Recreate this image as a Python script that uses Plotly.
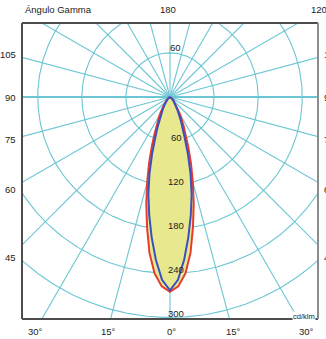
import numpy as np
import plotly.graph_objects as go

# ---- data ----
gamma_deg = [0, 2.5, 5, 7.5, 10, 12.5, 15, 17.5, 20, 22.5, 25, 30, 35, 40, 45, 50, 60, 70, 90]
intensity_red = [265, 258, 241, 214, 180, 149, 120, 95, 73, 56, 44, 28, 17, 11, 7, 5, 2, 1, 0]
intensity_blue = [263, 249, 222, 192, 163, 136, 108, 81, 58, 44, 34, 20, 13, 8, 5, 3, 1, 0.5, 0]
ring_values = [60, 120, 180, 240, 300]
ring_labels = ["60", "120", "180", "240", "300"]
spoke_step = 15
side_angles = [105, 90, 75, 60, 45]
side_labels = ["105", "90", "75", "60", "45"]
bottom_angles = [-30, -15, 0, 15, 30]
bottom_labels = ["30°", "15°", "0°", "15°", "30°"]
top_angles = [180, 120]
top_labels = ["180", "120"]
unit_label = "cd/klm"
title_label = "Ángulo Gamma"

# ---- layout geometry (screen pixels) ----
W, H = 326, 339
box_l, box_r, box_t, box_b = 22, 318, 23, 319
ml, mt = box_l, box_t
pw, ph = box_r - box_l, box_b - box_t
mr, mb = W - ml - pw, H - mt - ph
pxu = 0.7348  # pixels per cd/klm
cx_px = (box_l + box_r) / 2
cy_px = 97
xr = [-(pw / 2) / pxu, (pw / 2) / pxu]
yr = [-(box_b - cy_px) / pxu, (cy_px - box_t) / pxu]

GRID = "#6cc6d4"
FONT = "Liberation Sans, Arial, sans-serif"
TXT = "#222222"


def to_paper(x, y):
    return (x - xr[0]) / (xr[1] - xr[0]), (y - yr[0]) / (yr[1] - yr[0])


def px_to_data_x(px):
    return (px - cx_px) / pxu


def px_to_data_y(py):
    return (cy_px - py) / pxu


fig = go.Figure()

# rings
t = np.linspace(0, 2 * np.pi, 721)
rxs, rys = [], []
for r in ring_values:
    rxs += list(r * np.sin(t)) + [None]
    rys += list(r * np.cos(t)) + [None]
fig.add_trace(go.Scatter(x=rxs, y=rys, mode="lines", line=dict(color=GRID, width=1.1),
                         hoverinfo="skip", showlegend=False))

# spokes
Lr = 700
sx, sy = [], []
for a in range(0, 360, spoke_step):
    if a in (90, 270):
        continue
    ar = np.radians(a)
    sx += [0, Lr * np.sin(ar), None]
    sy += [0, -Lr * np.cos(ar), None]
fig.add_trace(go.Scatter(x=sx, y=sy, mode="lines", line=dict(color=GRID, width=1.1),
                         hoverinfo="skip", showlegend=False))
fig.add_trace(go.Scatter(x=[-Lr, Lr], y=[0, 0], mode="lines", line=dict(color=GRID, width=2),
                         hoverinfo="skip", showlegend=False))


def curve(gam, inten):
    g = np.radians(np.array(gam, dtype=float))
    I = np.array(inten, dtype=float)
    gg = np.concatenate([-g[::-1], g[1:]])
    II = np.concatenate([I[::-1], I[1:]])
    return II * np.sin(gg), -II * np.cos(gg)


rx, ry = curve(gamma_deg, intensity_red)
bx, by = curve(gamma_deg, intensity_blue)
fig.add_trace(go.Scatter(x=rx, y=ry, mode="lines", fill="toself", fillcolor="#e8e98f",
                         line=dict(color="#e63c2e", width=2), hoverinfo="skip", showlegend=False))
fig.add_trace(go.Scatter(x=bx, y=by, mode="lines",
                         line=dict(color="#3a4fc0", width=2), hoverinfo="skip", showlegend=False))

ann = []
# ring labels
for r, lab in zip(ring_values, ring_labels):
    ann.append(dict(x=0, y=-r, xref="x", yref="y", text=lab, showarrow=False,
                    xshift=6, yshift=4, font=dict(size=9.5, color=TXT, family=FONT)))
ann.append(dict(x=0, y=ring_values[0], xref="x", yref="y", text=ring_labels[0], showarrow=False,
                xshift=5, yshift=5, font=dict(size=9.5, color=TXT, family=FONT)))

# side labels (left & right) at the spoke crossing of the label column
col = px_to_data_x(10)
for a, lab in zip(side_angles, side_labels):
    ar = np.radians(a)
    yv = col * np.cos(ar) / np.sin(ar)
    xp, yp = to_paper(px_to_data_x(18), yv)
    ann.append(dict(x=xp, y=yp, xref="paper", yref="paper", text=lab, showarrow=False,
                    xanchor="right", yanchor="middle", font=dict(size=9.5, color=TXT, family=FONT)))
    xp2, _ = to_paper(px_to_data_x(322), yv)
    ann.append(dict(x=xp2, y=yp, xref="paper", yref="paper", text=lab, showarrow=False,
                    xanchor="left", yanchor="middle", font=dict(size=9.5, color=TXT, family=FONT)))

# bottom labels
rowb = px_to_data_y(331)
for a, lab in zip(bottom_angles, bottom_labels):
    xv = -rowb * np.tan(np.radians(a))
    xp, yp = to_paper(xv, rowb)
    ann.append(dict(x=xp, y=yp, xref="paper", yref="paper", text=lab, showarrow=False,
                    xanchor="center", yanchor="middle", xshift=1,
                    font=dict(size=9.5, color=TXT, family=FONT)))

# top labels
rowt = px_to_data_y(10)
for a, lab in zip(top_angles, top_labels):
    xv = rowt * np.tan(np.radians(180 - a))
    xp, yp = to_paper(xv, rowt)
    ann.append(dict(x=xp, y=yp, xref="paper", yref="paper", text=lab, showarrow=False,
                    xanchor="center", yanchor="middle", xshift=-2,
                    font=dict(size=9.5, color=TXT, family=FONT)))
xp, yp = to_paper(px_to_data_x(23), rowt)
ann.append(dict(x=xp, y=yp, xref="paper", yref="paper", text=title_label, showarrow=False,
                xanchor="left", yanchor="middle", font=dict(size=9.5, color=TXT, family=FONT)))

# unit label
xp, yp = to_paper(px_to_data_x(316), px_to_data_y(316))
ann.append(dict(x=xp, y=yp, xref="paper", yref="paper", text=unit_label, showarrow=False,
                xanchor="right", yanchor="middle", bgcolor="white", borderpad=0,
                font=dict(size=7.5, color=TXT, family=FONT)))

shapes = [
    dict(type="line", xref="paper", yref="paper", x0=0, x1=0, y0=0, y1=1, line=dict(color="#4d4d4d", width=2)),
    dict(type="line", xref="paper", yref="paper", x0=0, x1=1, y0=1, y1=1, line=dict(color="#4d4d4d", width=2)),
    dict(type="line", xref="paper", yref="paper", x0=0, x1=1, y0=0, y1=0, line=dict(color="#4d4d4d", width=2)),
    dict(type="line", xref="paper", yref="paper", x0=1, x1=1, y0=0, y1=1, line=dict(color="#8c8c8c", width=2)),
]

fig.update_layout(
    width=W, height=H,
    margin=dict(l=ml, r=mr, t=mt, b=mb, pad=0),
    paper_bgcolor="white", plot_bgcolor="white",
    xaxis=dict(range=xr, showgrid=False, zeroline=False, showticklabels=False, ticks="", fixedrange=True),
    yaxis=dict(range=yr, showgrid=False, zeroline=False, showticklabels=False, ticks="", fixedrange=True),
    annotations=ann, shapes=shapes, showlegend=False,
)
fig.write_html("out.html", config={"displayModeBar": False},
               post_script="document.body.style.margin='0';document.body.style.overflow='hidden';")
